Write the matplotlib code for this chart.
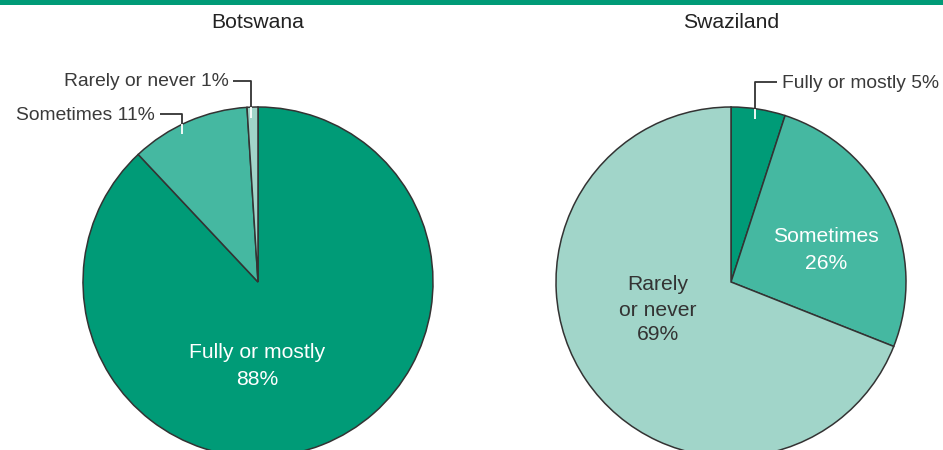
import matplotlib.pyplot as plt
from matplotlib.patches import Rectangle

plt.rcParams['font.family'] = ['Liberation Sans', 'DejaVu Sans']

# data
countries = ['Botswana', 'Swaziland']
categories = ['Fully or mostly', 'Sometimes', 'Rarely or never']
botswana = [88, 11, 1]
swaziland = [5, 26, 69]
colors = ['#009b77', '#45b8a1', '#a1d5c9']

W, H = 943, 450
fig = plt.figure(figsize=(W / 100, H / 100), dpi=100)
ax = fig.add_axes([0, 0, 1, 1])
ax.set_xlim(0, W)
ax.set_ylim(0, H)
ax.set_aspect('equal')
ax.axis('off')

def py(y):
    # pixel y (from top) -> data y
    return H - y

R = 175
centers = [(258, py(282)), (731, py(282))]
dark = '#333333'

# green band on top
ax.add_patch(Rectangle((0, py(5)), W, 5, color='#009b77', lw=0, zorder=5))

for (cx, cy), name, vals in zip(centers, countries, [botswana, swaziland]):
    ax.pie(vals, colors=colors, startangle=90, counterclock=False,
           center=(cx, cy), radius=R,
           wedgeprops=dict(edgecolor=dark, linewidth=1.1))
    ax.text(cx, py(22), name, ha='center', va='center', fontsize=15.2, color='#222222')

ax.set_xlim(0, W)
ax.set_ylim(0, H)

# inside labels
ax.text(257, py(366), 'Fully or mostly\n88%', ha='center', va='center',
        fontsize=15.2, color='white', linespacing=1.48)
ax.text(826, py(250), 'Sometimes\n26%', ha='center', va='center',
        fontsize=15.2, color='white', linespacing=1.48)
ax.text(658, py(310), 'Rarely\nor never\n69%', ha='center', va='center',
        fontsize=15.2, color='#333333', linespacing=1.4)

# outside labels with leader lines
def leader(pts_out, pts_in):
    xs, ys = zip(*pts_out)
    ax.plot(xs, [py(v) for v in ys], color=dark, lw=1.3, solid_capstyle='butt', zorder=6)
    xs, ys = zip(*pts_in)
    ax.plot(xs, [py(v) for v in ys], color='white', lw=1.3, solid_capstyle='butt', zorder=6)

lab = dict(fontsize=13.9, color='#3a3a3a', va='center')

ax.text(229, py(82), f'{categories[2]} {botswana[2]}%', ha='right', **lab)
leader([(233, 81), (251, 81), (251, 107)], [(251, 107), (251, 118)])

ax.text(155, py(115), f'{categories[1]} {botswana[1]}%', ha='right', **lab)
leader([(160, 114), (182, 114), (182, 124)], [(182, 124), (182, 134)])

ax.text(782, py(83), f'{categories[0]} {swaziland[0]}%', ha='left', **lab)
leader([(777, 82), (755, 82), (755, 109)], [(755, 109), (755, 119)])

fig.savefig('out.png', dpi=100)
